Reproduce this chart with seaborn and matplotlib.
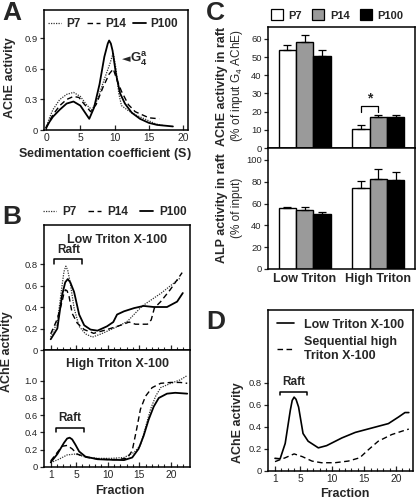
import matplotlib
matplotlib.use("Agg")
import matplotlib.pyplot as plt
from matplotlib.ticker import FuncFormatter, FixedLocator
from matplotlib.lines import Line2D
from matplotlib.patches import Patch
import pandas as pd
import seaborn as sns

# ---------------- Data ----------------
ages = ["P7", "P14", "P100"]

# Panel A: sucrose-gradient sedimentation profiles
a_p7_s = [0, 0.5, 1, 2, 3, 4, 5, 6, 6.7, 7.5, 8.5, 9.3, 9.8, 10.2, 10.6, 11, 12, 13, 14, 15, 16, 17]
a_p7_y = [0.02, 0.12, 0.2, 0.3, 0.35, 0.37, 0.33, 0.24, 0.2, 0.3, 0.5, 0.65, 0.76, 0.6, 0.36, 0.24,
          0.19, 0.15, 0.12, 0.09, 0.06, 0.045]
a_p14_s = [0, 0.5, 1, 2, 3, 4, 4.8, 5.5, 6.5, 7.3, 8.3, 9.2, 9.8, 10.3, 11, 12, 13, 14, 15, 16.5]
a_p14_y = [0.02, 0.09, 0.15, 0.24, 0.3, 0.33, 0.32, 0.26, 0.18, 0.25, 0.42, 0.55, 0.6, 0.5, 0.38,
           0.25, 0.18, 0.15, 0.12, 0.11]
a_p100_s = [0, 0.5, 1, 2, 3, 4, 5, 5.8, 6.3, 7, 7.8, 8.5, 9.0, 9.2, 9.45, 9.7, 10.2, 10.8, 11.5,
            12.5, 13.7, 15, 16.2, 18.5]
a_p100_y = [0.02, 0.08, 0.13, 0.2, 0.26, 0.28, 0.24, 0.16, 0.11, 0.22, 0.45, 0.72, 0.85, 0.88, 0.85,
            0.78, 0.55, 0.36, 0.26, 0.17, 0.11, 0.07, 0.05, 0.035]

# Panel B (low Triton X-100)
bl_p7_f = [1, 2.05, 2.8, 3.1, 3.4, 3.7, 4.05, 4.7, 5.5, 6.5, 7.6, 9, 10.5, 12, 13.2, 14.5, 15.5, 17,
           18.5, 20, 21.5]
bl_p7_y = [0.12, 0.26, 0.6, 0.73, 0.78, 0.74, 0.64, 0.39, 0.22, 0.15, 0.12, 0.15, 0.19, 0.23, 0.27,
           0.35, 0.41, 0.47, 0.53, 0.6, 0.67]
bl_p14_f = [1, 2.05, 2.8, 3.1, 3.35, 3.6, 3.9, 4.4, 5.2, 6.3, 7.8, 9.9, 12.05, 13.4, 14.4, 16.3, 16.9,
            17.4, 18.4, 19.9, 21.8]
bl_p14_y = [0.15, 0.29, 0.45, 0.53, 0.56, 0.55, 0.5, 0.34, 0.25, 0.19, 0.155, 0.19, 0.23, 0.26, 0.24,
            0.24, 0.28, 0.39, 0.45, 0.56, 0.72]
bl_p100_f = [1, 2.05, 2.8, 3.3, 3.7, 4.1, 4.7, 5.5, 6.3, 7.3, 8.4, 9.9, 10.9, 11.5, 12.6, 14.2, 15.7,
             17.3, 19.4, 21, 21.9]
bl_p100_y = [0.1, 0.2, 0.51, 0.63, 0.66, 0.63, 0.54, 0.33, 0.23, 0.19, 0.18, 0.22, 0.26, 0.33, 0.36,
             0.39, 0.41, 0.4, 0.4, 0.45, 0.53]

# Panel B (high Triton X-100)
bh_p7_f = [1, 2.3, 3.6, 4.9, 6.3, 8.4, 10.5, 12.6, 14.2, 15.2, 16, 16.8, 17.6, 18.4, 20, 21.5, 22.6]
bh_p7_y = [0.05, 0.09, 0.14, 0.15, 0.12, 0.1, 0.1, 0.11, 0.17, 0.25, 0.46, 0.67, 0.82, 0.92, 0.97,
           1.01, 1.06]
bh_p14_f = [1, 2.05, 2.8, 3.6, 4.4, 5.2, 6.8, 8.9, 11, 13.1, 13.9, 14.6, 15.2, 16, 17.05, 18.4, 20,
            21.5, 22.6]
bh_p14_y = [0.07, 0.17, 0.24, 0.25, 0.21, 0.15, 0.11, 0.09, 0.085, 0.1, 0.19, 0.44, 0.67, 0.82, 0.92,
            0.97, 0.98, 0.98, 0.97]
bh_p100_f = [1, 2.05, 3.1, 3.6, 4.0, 4.4, 4.9, 5.5, 6.5, 8.4, 10.5, 12.6, 13.9, 14.9, 15.7, 16.5,
             17.3, 18.1, 19.4, 20.7, 22.6]
bh_p100_y = [0.054, 0.15, 0.28, 0.33, 0.34, 0.32, 0.26, 0.18, 0.12, 0.09, 0.084, 0.08, 0.11, 0.21,
             0.36, 0.55, 0.7, 0.8, 0.85, 0.86, 0.85]

# Panel C: bar values (mean, upper error)
c_conditions = ["Low Triton", "High Triton"]
c_ache_mean = {"P7": [54, 10.5], "P14": [58.3, 17.3], "P100": [50.5, 16.8]}
c_ache_err = {"P7": [2.5, 2.0], "P14": [3.7, 0.7], "P100": [3.5, 1.2]}
c_alp_mean = {"P7": [56, 74.5], "P14": [54.5, 82.5], "P100": [50.5, 81.5]}
c_alp_err = {"P7": [1.2, 5.8], "P14": [2.0, 9.5], "P100": [1.5, 7.2]}

# Panel D
d_low_f = [1, 1.8, 2.6, 3.4, 3.7, 4.0, 4.3, 4.7, 5.4, 6.2, 7.8, 9.1, 11.5, 13.6, 16.2, 18.8, 20.4,
           21.4, 22]
d_low_y = [0.115, 0.11, 0.25, 0.55, 0.64, 0.67, 0.65, 0.58, 0.34, 0.27, 0.21, 0.23, 0.3, 0.35, 0.39,
           0.43, 0.49, 0.53, 0.53]
d_seq_f = [1, 2.6, 4.0, 5.3, 6.8, 8.3, 10.4, 12.5, 14.3, 15.6, 17.2, 19.3, 21.4, 22]
d_seq_y = [0.085, 0.12, 0.155, 0.13, 0.09, 0.075, 0.075, 0.09, 0.12, 0.19, 0.27, 0.33, 0.37, 0.38]

# ---------------- Style ----------------
sns.set_style("ticks")
plt.rcParams["font.family"] = ["Liberation Sans", "DejaVu Sans"]
plt.rcParams["mathtext.fontset"] = "custom"
plt.rcParams["mathtext.rm"] = "Liberation Sans"
plt.rcParams["mathtext.bf"] = "Liberation Sans:bold"
plt.rcParams["axes.linewidth"] = 1.1
plt.rcParams["axes.edgecolor"] = "black"

STY = {"P7": dict(color="#333333", linestyle=(0, (1, 1)), lw=0.9),
       "P14": dict(color="black", linestyle=(0, (4, 2.5)), lw=1.0),
       "P100": dict(color="black", linestyle="-", lw=1.3)}

TICK_FS = 6.8
LAB_FS = 9

W, H = 416, 500
fig = plt.figure(figsize=(W / 100, H / 100), dpi=100)


def rect(l, t, r, b):
    return [l / W, 1 - b / H, (r - l) / W, (b - t) / H]


def fmt(v, _):
    return "0" if abs(v) < 1e-9 else f"{v:.1f}"


def style_axes(ax, xin=True):
    for s in ax.spines.values():
        s.set_visible(True)
        s.set_linewidth(1.1)
    ax.tick_params(axis="y", direction="out", length=3, width=0.9, labelsize=TICK_FS, pad=1.5)
    ax.tick_params(axis="x", direction="in" if xin else "out", length=3.5, width=0.9,
                   labelsize=TICK_FS + 0.6, pad=2)


def draw(ax, x, y, key, **kw):
    s = dict(STY[key])
    s.update(kw)
    sns.lineplot(x=x, y=y, ax=ax, sort=False, estimator=None, **s)


def raft(ax, x0, x1, ytop, ytick, ytext):
    ax.plot([x0, x0, x1, x1], [ytick, ytop, ytop, ytick], color="black", lw=1.1)
    ax.text((x0 + x1) / 2, ytext, "Raft", ha="center", va="bottom", fontsize=8.5, fontweight="bold")


def leg_handles():
    return [Line2D([], [], **STY[k]) for k in ages]


# ---------------- Panel A ----------------
axA = fig.add_axes(rect(44, 10, 188, 130))
draw(axA, a_p7_s, a_p7_y, "P7")
draw(axA, a_p14_s, a_p14_y, "P14")
draw(axA, a_p100_s, a_p100_y, "P100")
axA.set_xlim(-0.3, 20.7)
axA.set_ylim(0, 1.18)
axA.set_xticks([0, 5, 10, 15, 20])
axA.set_yticks([0, 0.3, 0.6, 0.9])
axA.yaxis.set_major_formatter(FuncFormatter(fmt))
style_axes(axA)
axA.set_xlabel("")
axA.set_ylabel("")
axA.legend(leg_handles(), ages, loc="upper center", bbox_to_anchor=(0.48, 1.0), ncol=3,
           frameon=False, handlelength=1.1, handletextpad=0.4, columnspacing=0.6,
           prop=dict(weight="bold", size=8.5), borderaxespad=0.3)
axA.text(11.0, 0.70, "◄", ha="left", va="center", fontsize=8,
         family=["DejaVu Sans"])
axA.text(12.3, 0.70, r"$\mathbf{G_4^a}$", ha="left", va="center", fontsize=9.5)
fig.text(10 / W, 1 - 78 / H, "AChE activity", rotation=90, ha="center", va="center",
         fontsize=LAB_FS, fontweight="bold")
fig.text(105 / W, 1 - 154 / H, r"Sedimentation coefficient $\mathregular{(S)}$", ha="center",
         va="center", fontsize=LAB_FS, fontweight="bold")

# ---------------- Panel B ----------------
axB1 = fig.add_axes(rect(44, 225, 190, 350))
axB2 = fig.add_axes(rect(44, 350, 190, 467))
draw(axB1, bl_p7_f, bl_p7_y, "P7")
draw(axB1, bl_p14_f, bl_p14_y, "P14")
draw(axB1, bl_p100_f, bl_p100_y, "P100")
draw(axB2, bh_p7_f, bh_p7_y, "P7")
draw(axB2, bh_p14_f, bh_p14_y, "P14")
draw(axB2, bh_p100_f, bh_p100_y, "P100")
for ax, top, yt in [(axB1, 1.163, [0, 0.2, 0.4, 0.6, 0.8]),
                    (axB2, 1.356, [0, 0.2, 0.4, 0.6, 0.8, 1.0])]:
    ax.set_xlim(-0.06, 23.04)
    ax.set_ylim(0, top)
    ax.set_yticks(yt)
    ax.yaxis.set_major_formatter(FuncFormatter(fmt))
    ax.set_xticks([1, 5, 10, 15, 20])
    ax.xaxis.set_minor_locator(FixedLocator(list(range(1, 23))))
    style_axes(ax)
    ax.tick_params(axis="x", which="minor", direction="in", length=2.5, width=0.8)
    ax.set_xlabel("")
    ax.set_ylabel("")
axB1.tick_params(axis="x", labelbottom=False)
axB1.text(0.5, 0.93, "Low Triton X-100", transform=axB1.transAxes, ha="center", va="top",
          fontsize=9, fontweight="bold")
axB2.text(0.5, 0.93, "High Triton X-100", transform=axB2.transAxes, ha="center", va="top",
          fontsize=9, fontweight="bold")
raft(axB1, 1.6, 6.0, 0.845, 0.80, 0.87)
raft(axB2, 1.9, 6.2, 0.45, 0.40, 0.50)
fig.legend(leg_handles(), ages, loc="center", bbox_to_anchor=(115 / W, 1 - 212 / H), ncol=3,
           frameon=False, handlelength=1.1, handletextpad=0.5, columnspacing=1.0,
           prop=dict(weight="bold", size=8.5))
fig.text(7 / W, 1 - 352 / H, "AChE activity", rotation=90, ha="center", va="center",
         fontsize=LAB_FS, fontweight="bold")
fig.text(120 / W, 1 - 491 / H, "Fraction", ha="center", va="center", fontsize=LAB_FS,
         fontweight="bold")

# ---------------- Panel C ----------------
palette = {"P7": "white", "P14": "#9a9a9a", "P100": "black"}
axC1 = fig.add_axes(rect(268, 27, 415, 148))
axC2 = fig.add_axes(rect(268, 148, 415, 269))


def bars(ax, means, errs, top, yt):
    df = pd.DataFrame([(c, a, means[a][i]) for a in ages for i, c in enumerate(c_conditions)],
                      columns=["cond", "age", "val"])
    sns.barplot(data=df, x="cond", y="val", hue="age", order=c_conditions, hue_order=ages,
                palette=palette, edgecolor="black", linewidth=1.0, width=0.71, ax=ax,
                legend=False, errorbar=None)
    centers = {}
    for a, cont in zip(ages, ax.containers):
        xs = [p.get_x() + p.get_width() / 2 for p in cont.patches]
        hs = [p.get_height() for p in cont.patches]
        centers[a] = xs
        ax.errorbar(xs, hs, yerr=[[0] * len(xs), errs[a]], fmt="none", ecolor="black",
                    elinewidth=0.9, capsize=3, capthick=0.9, zorder=1)
    ax.set_ylim(0, top)
    ax.set_xlim(-0.5, 1.5)
    ax.set_yticks(yt)
    ax.set_xlabel("")
    ax.set_ylabel("")
    style_axes(ax, xin=False)
    ax.tick_params(axis="x", length=0)
    return centers


cen = bars(axC1, c_ache_mean, c_ache_err, 66.6, [0, 10, 20, 30, 40, 50, 60])
axC1.tick_params(axis="x", labelbottom=False)
bars(axC2, c_alp_mean, c_alp_err, 111, [0, 20, 40, 60, 80, 100])
axC2.tick_params(axis="x", labelsize=9, pad=3)
for t in axC2.get_xticklabels():
    t.set_fontweight("bold")
# significance bracket
x0, x1 = cen["P7"][1], cen["P14"][1]
axC1.plot([x0, x0, x1, x1], [20, 23, 23, 20], color="black", lw=0.9)
axC1.text((x0 + x1) / 2, 23.5, "*", ha="center", va="bottom", fontsize=10, fontweight="bold")

fig.legend([Patch(facecolor=palette[a], edgecolor="black", lw=0.9) for a in ages], ages,
           loc="center", bbox_to_anchor=(337 / W, 1 - 15 / H), ncol=3, frameon=False,
           handlelength=1.1, handleheight=1.1, handletextpad=0.5, columnspacing=0.9,
           prop=dict(weight="bold", size=8))
fig.text(222 / W, 1 - 86 / H, "AChE activity in raft", rotation=90, ha="center", va="center",
         fontsize=LAB_FS, fontweight="bold")
fig.text(237 / W, 1 - 86 / H, r"(% of input G$_4$ AChE)", rotation=90, ha="center", va="center",
         fontsize=8.5)
fig.text(222 / W, 1 - 208 / H, "ALP activity in raft", rotation=90, ha="center", va="center",
         fontsize=LAB_FS, fontweight="bold")
fig.text(237 / W, 1 - 208 / H, "(% of input)", rotation=90, ha="center", va="center",
         fontsize=8.5)

# ---------------- Panel D ----------------
axD = fig.add_axes(rect(268, 310, 413, 471))
sns.lineplot(x=d_low_f, y=d_low_y, ax=axD, sort=False, estimator=None, color="black", lw=1.2)
sns.lineplot(x=d_seq_f, y=d_seq_y, ax=axD, sort=False, estimator=None, color="black", lw=1.0,
             linestyle=(0, (4, 2.5)))
axD.set_xlim(-0.1, 22.66)
axD.set_ylim(0, 1.46)
axD.set_yticks([0, 0.2, 0.4, 0.6, 0.8])
axD.yaxis.set_major_formatter(FuncFormatter(fmt))
axD.set_xticks([1, 5, 10, 15, 20])
axD.xaxis.set_minor_locator(FixedLocator(list(range(1, 23))))
style_axes(axD)
axD.tick_params(axis="x", which="minor", direction="in", length=2.5, width=0.8)
axD.set_xlabel("")
axD.set_ylabel("")
raft(axD, 1.8, 6.0, 0.72, 0.69, 0.75)
axD.legend([Line2D([], [], color="black", lw=1.2),
            Line2D([], [], color="black", lw=1.0, linestyle=(0, (4, 2.5)))],
           ["Low Triton X-100", "Sequential high\nTriton X-100"], loc="upper left",
           frameon=False, handlelength=1.4, handletextpad=0.8, labelspacing=0.45,
           prop=dict(weight="bold", size=9), borderaxespad=0.3)
fig.text(238 / W, 1 - 423 / H, "AChE activity", rotation=90, ha="center", va="center",
         fontsize=LAB_FS, fontweight="bold")
fig.text(345 / W, 1 - 494 / H, "Fraction", ha="center", va="center", fontsize=LAB_FS,
         fontweight="bold")

# ---------------- Panel letters ----------------
for lab, x, y in [("A", 2, 1), ("B", 2, 205), ("C", 206, 1), ("D", 206, 310)]:
    fig.text(x / W, 1 - y / H, lab, ha="left", va="top", fontsize=19, fontweight="bold")

fig.savefig("out.png", dpi=100)
